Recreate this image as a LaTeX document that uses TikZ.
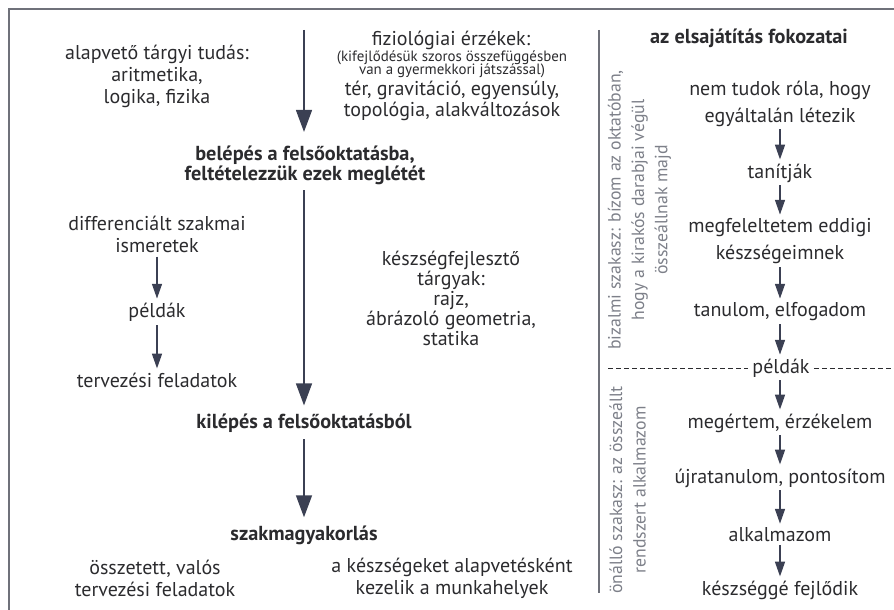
\documentclass[tikz,border=0pt]{standalone}
\usepackage{fontspec}
\setmainfont{PT Sans}
\usetikzlibrary{arrows.meta}
\definecolor{txt}{HTML}{2B2B2E}
\definecolor{arr}{HTML}{3B4053}
\definecolor{frm}{HTML}{6F717A}
\definecolor{rtx}{HTML}{7D8089}
\newcommand{\nolsk}{\lineskiplimit=-100pt\relax}
\tikzset{
  main/.style={text=txt,font=\fontsize{15}{16.5}\selectfont\nolsk,align=center,inner sep=1pt},
  mainw/.style={main,font=\fontsize{15}{20.25}\selectfont\nolsk},
  mainn/.style={main,font=\fontsize{15}{15}\selectfont\nolsk},
  small/.style={text=txt,font=\fontsize{11.2}{9.75}\selectfont\nolsk,align=center,inner sep=1pt},
  head/.style={text=txt,font=\bfseries\fontsize{15.2}{15}\selectfont\nolsk,align=center,inner sep=1pt},
  rot/.style={text=rtx,font=\fontsize{13.3}{17.6}\selectfont\nolsk,align=center,rotate=90,inner sep=1pt},
  bigarr/.style={draw=arr,line width=1.1pt,-{Triangle[length=16.5pt,width=12pt]},arr},
  smarr/.style={draw=arr,line width=0.9pt,-{Triangle[length=11pt,width=7.5pt]},arr},
  frameline/.style={draw=frm,line width=1.5pt},
  sepline/.style={draw=frm,line width=1.3pt},
  dashline/.style={draw=txt,line width=0.7pt,dash pattern=on 3.8pt off 2.2pt}
}
\begin{document}
\begin{tikzpicture}[x=0.75pt,y=-0.75pt]
\useasboundingbox (0,0) rectangle (894,610);
% frame
\coordinate (fbl) at (9,612);
\coordinate (ftl) at (9,9);
\coordinate (ftr) at (896,9);
\draw[frameline] (fbl) -- (ftl) -- (ftr);
% separator
\coordinate (s1) at (599,30);
\coordinate (s2) at (599,593);
\draw[sepline] (s1) -- (s2);

% left / middle column
\node[main] (alap) at (157,76) {alapvető tárgyi tudás:\\aritmetika,\\logika, fizika};
\node[main] (fizio1) at (451,40) {fiziológiai érzékek:};
\node[small] (fizio2) at (452,64.5) {(kifejlődésük szoros összefüggésben\\van a gyermekkori játszással)};
\node[main,font=\fontsize{15}{15.5}\selectfont\nolsk] (fizio3) at (452,101) {tér, gravitáció, egyensúly,\\topológia, alakváltozások};
\node[head] (belep) at (305,165) {belépés a felsőoktatásba,\\feltételezzük ezek meglétét};
\node[main] (diff) at (157,234) {differenciált szakmai\\ismeretek};
\node[main] (pel1) at (157,312) {példák};
\node[main] (terv) at (157,380) {tervezési feladatok};
\node[mainn] (kfej) at (451,298) {készségfejlesztő\\tárgyak:\\rajz,\\ábrázoló geometria,\\statika};
\node[head] (kilep) at (304,423) {kilépés a felsőoktatásból};
\node[head] (szakma) at (304,535) {szakmagyakorlás};
\node[main] (ossz) at (155,578) {összetett, valós\\tervezési feladatok};
\node[main] (alapv) at (452,578) {a készségeket alapvetésként\\kezelik a munkahelyek};

\coordinate (a1s) at (304,30);
\draw[bigarr,shorten >=9pt] (a1s) -- (belep.north -| a1s);
\draw[bigarr,shorten <=3pt,shorten >=5pt] (belep.south -| a1s) -- (kilep.north -| a1s);
\draw[bigarr,shorten <=4pt,shorten >=5pt] (kilep.south -| a1s) -- (szakma.north -| a1s);
\draw[smarr,shorten <=2pt,shorten >=2pt] (diff) -- (pel1);
\draw[smarr,shorten <=2pt,shorten >=2pt] (pel1) -- (terv);

% right column
\node[head] (fok) at (749,38) {az elsajátítás fokozatai};
\node[mainw] (r1) at (780,103.5) {nem tudok róla, hogy\\egyáltalán létezik};
\node[main] (r2) at (780,173) {tanítják};
\node[mainw] (r3) at (780,241.5) {megfeleltetem eddigi\\készségeimnek};
\node[main] (r4) at (780,312) {tanulom, elfogadom};
\node[main,fill=white,inner xsep=3pt] (r5) at (781,368) {példák};
\node[main] (r6) at (780,423) {megértem, érzékelem};
\node[main] (r7) at (780,478) {újratanulom, pontosítom};
\node[main] (r8) at (780,535) {alkalmazom};
\node[main] (r9) at (780,590) {készséggé fejlődik};

\coordinate (d1) at (608,368);
\coordinate (d2) at (894,368);
\draw[dashline] (d1) -- (r5.west);
\draw[dashline] (r5.east) -- (d2);

\foreach \a/\b in {r1/r2,r2/r3,r3/r4,r4/r5,r5/r6,r6/r7,r7/r8,r8/r9}
  \draw[smarr,shorten <=1pt,shorten >=2pt] (\a.south -| r2) -- (\b.north -| r2);

\node[rot] (biz) at (639.5,210) {bizalmi szakasz: bízom az oktatóban,\\hogy a kirakós darabjai végül\\összeállnak majd};
\node[rot] (onallo) at (627.5,490) {önálló szakasz: az összeállt\\rendszert alkalmazom};
\end{tikzpicture}
\end{document}
